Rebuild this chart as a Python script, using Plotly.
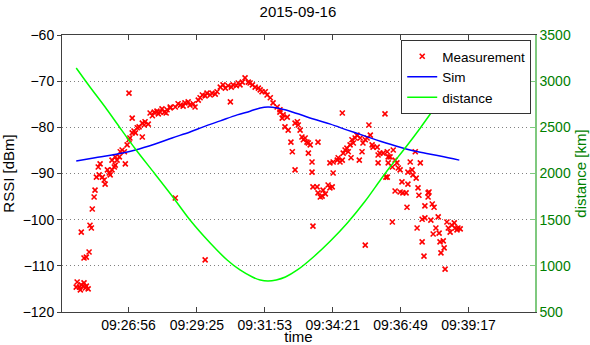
import pandas as pd
import plotly.graph_objects as go

DATE = "2015-09-16"
BASE = "2015-09-16 09:26:56"

# Measurement: seconds relative to 09:26:56, RSSI in dBm
t_meas = [
    -112, -107, -105, -99, -94, -88, -114, -97, -103, -92,
    -97, -92, -86, -103, -84, -81, -79, -75, -73,
    -70, -64, -57, -53, -51, -66, -62, -46, -42, -40, -36, -31, -29, -25, -20, -18, -14, -9, -7, -29, -36,
    -3, 1, 3, 8, 12, 19, 30, 23, 30, 36, 43, 34, 15, 8, 1,
    47, 56, 62, 69, 78, 84, 91, 52, 65, 73, 82,
    91, 102, 113, 123, 134, 145, 152, 161, 171, 182, 193, 200, 206, 217, 228, 239, 248, 254, 261, 270,
    276, 283, 291, 298, 302, 309, 315, 324, 330, 222, 102, 167,
    108, 119, 130, 141, 156, 167, 178, 189, 211, 224, 235, 243, 265, 287,
    330, 337, 346, 335, 341, 348, 363, 370, 368, 374, 378, 381, 385, 389, 392, 396, 354, 413, 357, 392, 400, 363, 400,
    402, 411, 413, 422, 424, 429, 435, 439, 444, 418, 446, 402, 516,
    439, 446, 455, 457, 461, 466, 468, 472, 476, 479, 483, 487, 490, 494, 498, 505, 509, 503, 485, 511, 516, 520,
    527, 531, 533, 542, 544, 548, 555, 561, 544, 566, 524, 466, 559,
    564, 570, 577, 566, 575, 581, 585, 588, 592, 625, 614, 636, 609, 618, 620, 627, 564, 596, 609, 581, 592, 598,
    605, 631, 633, 653, 655, 653, 607, 646, 662, 666, 575, 640, 646, 659, 675, 629, 670, 677, 664, 694, 697, 705,
    710, 712, 716, 718, 701, 723, 640, 679, 686, 688, 681, 644, 690,
]
rssi_meas = [
    -113.5, -114.6, -115.2, -114.4, -114.8, -115.0, -114.6, -113.7, -114.1, -114.4,
    -108.3, -108.1, -107.0, -102.7, -101.2, -101.8, -97.7, -95.1, -93.6,
    -90.8, -90.3, -90.8, -91.4, -92.3, -88.6, -87.9, -89.2, -89.9, -90.3, -89.2, -88.6, -88.2, -87.1, -86.4, -85.3, -84.9, -85.3, -87.9, -86.4, -87.1,
    -83.8, -82.7, -82.3, -81.2, -80.8, -80.1, -82.1, -79.9, -79.1, -78.8, -79.3, -79.5, -81.2, -78.0, -72.6,
    -76.9, -76.7, -76.5, -76.7, -76.7, -76.2, -75.6, -77.5, -77.1, -76.0, -76.9,
    -75.8, -75.6, -75.2, -74.7, -75.2, -75.6, -74.1, -73.0, -72.6, -72.6, -72.3, -71.3, -70.8, -71.0, -70.8, -70.4, -70.2, -69.3, -70.2, -70.8,
    -71.3, -71.5, -72.3, -72.3, -73.0, -73.6, -74.7, -75.6, -76.2, -74.5, -95.3, -108.7,
    -74.9, -75.4, -74.5, -74.9, -73.6, -73.2, -73.0, -72.8, -71.5, -71.3, -71.0, -70.8, -70.4, -71.9,
    -76.7, -77.3, -77.8, -78.0, -79.9, -80.6, -79.1, -79.5, -78.8, -80.6, -82.1, -82.7, -82.3, -83.2, -83.4, -83.8, -83.2, -83.2, -85.3, -85.6, -87.5, -89.2, -89.7,
    -92.9, -92.9, -94.2, -94.9, -93.6, -94.4, -92.5, -93.1, -92.9, -95.1, -89.9, -101.4, -105.5,
    -87.7, -87.5, -87.1, -86.6, -87.5, -87.1, -85.6, -84.9, -84.5, -85.3, -83.8, -82.7, -83.4, -82.3, -81.7, -82.3, -85.3, -87.1, -86.6, -83.4, -82.7, -82.3,
    -81.7, -83.8, -84.3, -84.3, -86.0, -85.6, -85.6, -90.8, -87.7, -86.4, -79.5, -76.9, -77.1,
    -85.3, -86.4, -84.9, -87.7, -88.6, -87.1, -87.7, -88.8, -89.2, -85.3, -87.5, -87.7, -89.7, -89.2, -90.3, -91.0, -90.8, -91.8, -92.3, -93.8, -94.0, -94.2,
    -94.2, -93.1, -94.7, -94.2, -94.0, -95.1, -97.3, -97.0, -96.6, -97.3, -100.5, -99.9, -99.6, -100.1, -99.4, -101.8, -101.8, -102.9, -103.1, -100.5, -101.8, -101.2,
    -100.7, -101.8, -102.2, -101.8, -102.7, -102.0, -104.8, -104.8, -104.6, -106.1, -107.2, -107.9, -110.7,
]

# Simulation
t_sim = [-114, -73, -36, 15, 58, 95, 134, 163, 200, 237, 265, 287, 304, 324,
         352, 403, 440, 477, 516, 549, 592, 631, 679, 721]
rssi_sim = [-87.3, -86.6, -86.0, -84.9, -83.6, -82.3, -81.0, -79.9, -78.6, -77.3, -76.5, -75.8, -75.6, -75.8,
            -76.5, -78.2, -79.3, -80.6, -81.9, -83.0, -84.3, -85.3, -86.2, -87.1]

# Distance
t_dist = [-114, -84, -51, -20, 15, 56, 95, 134, 178, 215, 243, 270, 287, 304,
          322, 342, 368, 403, 440, 477, 516, 549, 570, 603, 636, 664, 692, 721]
dist_km = [3143, 2937, 2720, 2504, 2265, 2005, 1756, 1496, 1247, 1063, 955, 879, 847, 836,
           847, 879, 955, 1096, 1269, 1464, 1702, 1930, 2070, 2276, 2493, 2688, 2883, 3078]

tick_labels = ["09:26:56", "09:29:25", "09:31:53", "09:34:21", "09:36:49", "09:39:17"]
x_range = ["09:24:31", "09:41:42"]
rssi_ticks = [-120, -110, -100, -90, -80, -70, -60]
dist_ticks = [500, 1000, 1500, 2000, 2500, 3000, 3500]

base = pd.Timestamp(BASE)
to_dt = lambda secs: [base + pd.Timedelta(seconds=s) for s in secs]
tickvals = [pd.Timestamp(f"{DATE} {s}") for s in tick_labels]
xr = [pd.Timestamp(f"{DATE} {s}") for s in x_range]

FONT = "Liberation Sans, Arial, sans-serif"
GREEN_TXT = "#008000"

fig = go.Figure()
fig.add_trace(go.Scatter(
    x=to_dt(t_meas), y=rssi_meas, mode="markers", name="Measurement",
    marker=dict(symbol="x-thin-open", size=5, color="red", line=dict(color="red", width=1.6)),
))
fig.add_trace(go.Scatter(
    x=to_dt(t_sim), y=rssi_sim, mode="lines", name="Sim",
    line=dict(color="#0000ff", width=1.5, shape="spline", smoothing=1.0),
))
fig.add_trace(go.Scatter(
    x=to_dt(t_dist), y=dist_km, mode="lines", name="distance", yaxis="y2",
    line=dict(color="#00ff00", width=1.5, shape="spline", smoothing=0.8),
))

fig.update_layout(
    width=590, height=345,
    margin=dict(l=62, r=55, t=35, b=33),
    paper_bgcolor="white", plot_bgcolor="white",
    font=dict(family=FONT, size=14, color="black"),
    title=dict(text=DATE, x=0.505, xanchor="center", y=1 - 12 / 345, yref="container",
               yanchor="middle", font=dict(size=15)),
    showlegend=True,
    legend=dict(x=0.992, xanchor="right", y=0.982, yanchor="top",
                bgcolor="white", bordercolor="#333", borderwidth=1,
                font=dict(size=13.5), tracegroupgap=0, itemwidth=30),
    xaxis=dict(
        type="date", range=xr, tickvals=tickvals, ticktext=tick_labels,
        showgrid=False, zeroline=False, showline=True, linecolor="#404040", linewidth=1,
        mirror="ticks", ticks="inside", ticklen=5, tickcolor="#404040",
        tickfont=dict(size=14),
        title=dict(text="time", standoff=1, font=dict(size=15)),
        automargin=False,
    ),
    yaxis=dict(
        range=[-120, -60], tickvals=rssi_ticks,
        showgrid=True, gridcolor="#808080", griddash="1px,3px", gridwidth=1,
        zeroline=False, showline=True, linecolor="#404040", linewidth=1,
        ticks="outside", ticklen=4, tickcolor="#404040",
        tickfont=dict(size=14),
        title=dict(text="RSSI [dBm]", standoff=6, font=dict(size=15)),
        automargin=False,
    ),
    yaxis2=dict(
        overlaying="y", side="right", range=[500, 3500], tickvals=dist_ticks,
        showgrid=False, zeroline=False, showline=True, linecolor="#7fc97f", linewidth=1.5,
        ticks="inside", ticklen=5, tickcolor="#7fc97f",
        tickfont=dict(color=GREEN_TXT, size=14),
        title=dict(text="distance [km]", standoff=6, font=dict(color=GREEN_TXT, size=15)),
        automargin=False,
    ),
)

fig.write_html("out.html")
